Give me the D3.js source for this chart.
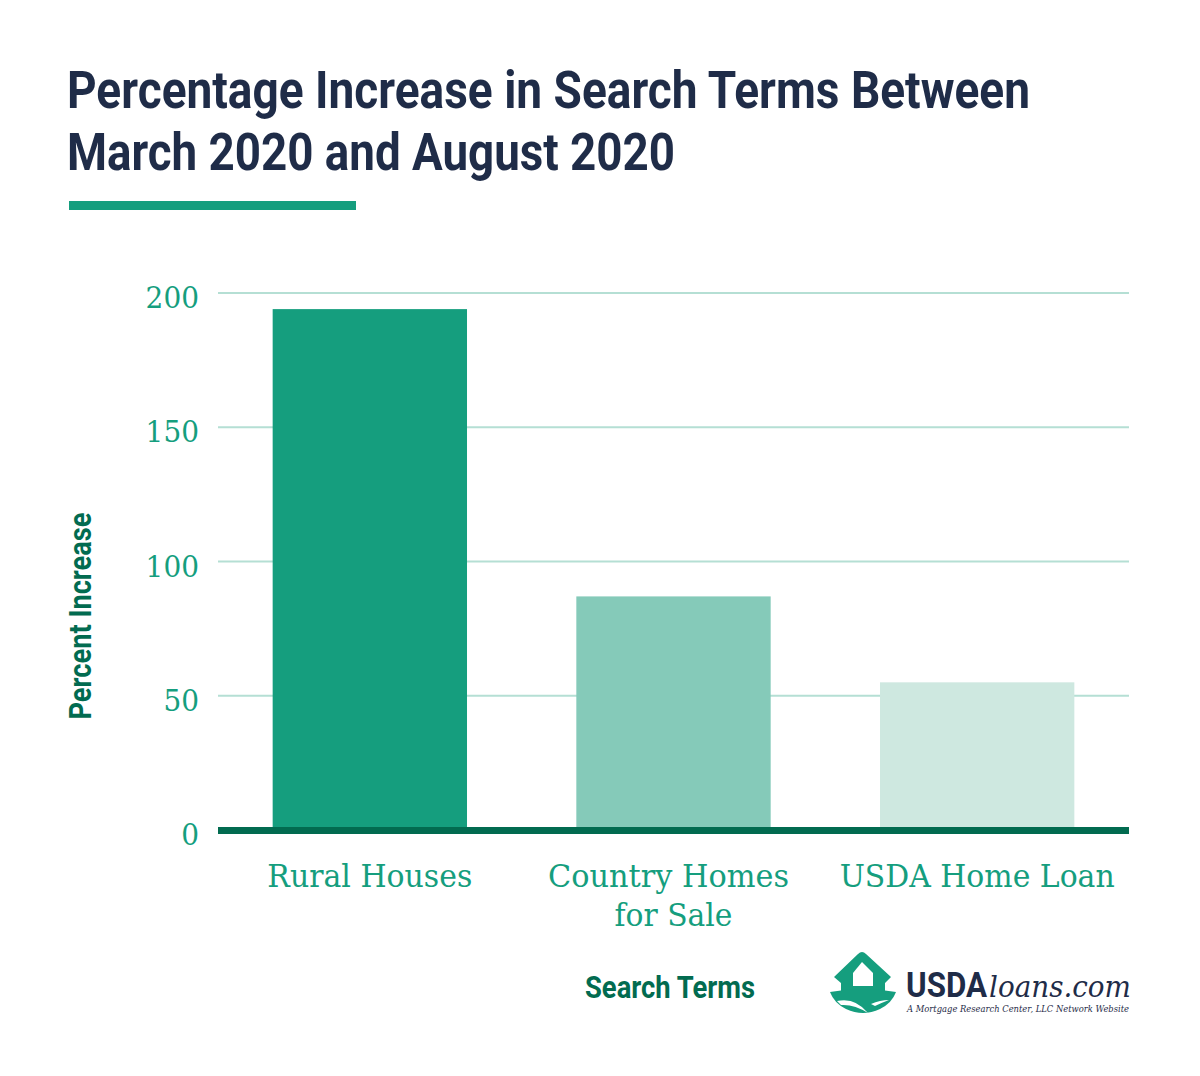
<!DOCTYPE html>
<html>
<head>
<meta charset="utf-8">
<script src="https://cdnjs.cloudflare.com/ajax/libs/d3/7.8.5/d3.min.js"></script>
<style>
  html, body { margin: 0; padding: 0; background: #fff; }
  svg { display: block; }
</style>
</head>
<body>
<svg id="chart" width="1200" height="1076"></svg>
<script>
const categories = ['Rural Houses', 'Country Homes|for Sale', 'USDA Home Loan'];
const values = [194, 87, 55];
const barColors = ['#159e7e', '#85cab9', '#cee8e0'];
const yTicks = [0, 50, 100, 150, 200];
const titleLines = ['Percentage Increase in Search Terms Between', 'March 2020 and August 2020'];

const green = '#159e7e';
const darkGreen = '#026b50';
const navy = '#1f2c48';
const sans = 'Roboto, sans-serif';
const serif = '"DejaVu Serif", serif';

const svg = d3.select('#chart');

// fits a text to the width measured on the reference (no condensed fonts here)
const fit = (sel, w) => sel.attr('textLength', w).attr('lengthAdjust', 'spacingAndGlyphs');

const x = d3.scaleBand().domain(categories).range([218, 1129]).paddingInner(0.36).paddingOuter(0.18);
const y = d3.scaleLinear().domain([0, 200]).range([830, 293]);

// title
svg.selectAll('.title').data(titleLines).join('text')
  .attr('class', 'title')
  .attr('x', 67)
  .attr('y', (d, i) => 108 + i * 62)
  .attr('font-family', sans)
  .attr('font-weight', 700)
  .attr('font-size', 51)
  .attr('fill', navy)
  .text(d => d)
  .each(function(d, i) { fit(d3.select(this), i == 0 ? 963 : 608); });

svg.append('rect').attr('x', 69).attr('y', 201).attr('width', 287).attr('height', 9).attr('fill', green);

// grid
svg.selectAll('.grid').data(yTicks.filter(d => d > 0)).join('line')
  .attr('class', 'grid')
  .attr('x1', 218).attr('x2', 1129)
  .attr('y1', d => y(d)).attr('y2', d => y(d))
  .attr('stroke', '#b5dfd4').attr('stroke-width', 2);

// bars
svg.selectAll('.bar').data(values).join('rect')
  .attr('class', 'bar')
  .attr('x', (d, i) => x(categories[i]))
  .attr('width', x.bandwidth())
  .attr('y', d => y(d))
  .attr('height', d => y(0) - y(d))
  .attr('fill', (d, i) => barColors[i]);

// baseline
svg.append('rect').attr('x', 218).attr('y', y(0) - 3).attr('width', 911).attr('height', 7).attr('fill', darkGreen);

// y tick labels
svg.selectAll('.ytick').data(yTicks).join('text')
  .attr('class', 'ytick')
  .attr('x', 199)
  .attr('y', d => y(d) + 15)
  .attr('text-anchor', 'end')
  .attr('font-family', serif)
  .attr('font-size', 30)
  .attr('fill', green)
  .text(d => d)
  .each(function(d) { fit(d3.select(this), String(d).length * 17.8); });

// x labels, the first line of the middle one sits a bit left in the reference
const xLabelWidths = [[205], [241, 118], [275]];
const xLabelShift = [[0], [-5, 0], [0]];
categories.forEach((c, i) => {
  c.split('|').forEach((line, j) => {
    fit(svg.append('text')
      .attr('x', x(c) + x.bandwidth() / 2 + xLabelShift[i][j])
      .attr('y', 887 + j * 39)
      .attr('text-anchor', 'middle')
      .attr('font-family', serif)
      .attr('font-size', 31)
      .attr('fill', green)
      .text(line), xLabelWidths[i][j]);
  });
});

// axis titles
fit(svg.append('text')
  .attr('transform', 'translate(91,616) rotate(-90)')
  .attr('text-anchor', 'middle')
  .attr('font-family', sans).attr('font-weight', 700).attr('font-size', 31)
  .attr('fill', darkGreen)
  .text('Percent Increase'), 207);

fit(svg.append('text')
  .attr('x', 670).attr('y', 998)
  .attr('text-anchor', 'middle')
  .attr('font-family', sans).attr('font-weight', 700).attr('font-size', 31)
  .attr('fill', darkGreen)
  .text('Search Terms'), 170);

// logo
const logo = svg.append('g');
logo.append('path')
  .attr('d', 'M858 954 Q862 950 866 954 L891 977 L885 983 L885 992 L841 992 L841 983 L834 977 Z')
  .attr('fill', green);
logo.append('path')
  .attr('d', 'M862 962 L873 973 L873 986 L853 986 L853 973 Z')
  .attr('fill', '#fff');
logo.append('path')
  .attr('d', 'M830 992 Q863 986 896 992 Q892 1003 880 1009 Q863 1017 846 1009 Q834 1003 830 992 Z')
  .attr('fill', green);
logo.append('path')
  .attr('d', 'M837 1001 Q855 997 868 1013 Q854 1004 841 1005 Z')
  .attr('fill', '#fff');
logo.append('path')
  .attr('d', 'M871 1004 Q880 1000 889 1000 Q881 1003 875 1006 Z')
  .attr('fill', '#fff');

fit(logo.append('text')
  .attr('x', 906).attr('y', 997)
  .attr('font-family', sans).attr('font-weight', 700).attr('font-size', 35)
  .attr('fill', navy).text('USDA'), 81);
fit(logo.append('text')
  .attr('x', 989).attr('y', 997)
  .attr('font-family', serif).attr('font-style', 'italic').attr('font-size', 30)
  .attr('fill', navy).text('loans.com'), 142);
fit(logo.append('text')
  .attr('x', 907).attr('y', 1012)
  .attr('font-family', serif).attr('font-style', 'italic').attr('font-size', 8.5)
  .attr('fill', navy).text('A Mortgage Research Center, LLC Network Website'), 222);
</script>
</body>
</html>
